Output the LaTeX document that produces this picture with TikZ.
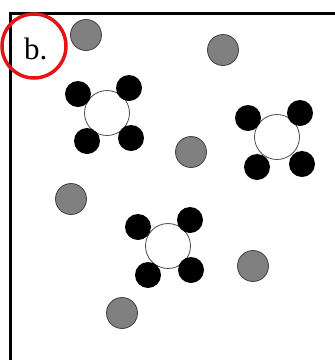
\documentclass[tikz,border=0pt]{standalone}
\usepackage{fontspec}
\setmainfont{Liberation Serif}
\definecolor{markred}{RGB}{228, 20, 20}
\definecolor{solgray}{RGB}{128, 128, 128}

\begin{document}
\begin{tikzpicture}[x=1pt, y=-1pt,
  solvent/.style={circle, draw=black!75, fill=solgray, line width=0.8pt, minimum size=31pt, inner sep=0pt},
  core/.style={circle, draw=black!70, fill=white, line width=0.8pt, minimum size=45pt, inner sep=0pt},
  ligand/.style={circle, fill=black, minimum size=26pt, inner sep=0pt},
  frame/.style={line width=3pt}
]
  \useasboundingbox (0,0) rectangle (335,360);

  % box edges
  \coordinate (topright) at (335,13);
  \coordinate (corner) at (10.5,13);
  \coordinate (bottomleft) at (10.5,360);
  \draw[frame] (topright) -- (corner) -- (bottomleft);

  % free particles
  \node[solvent] (s1) at (86,35) {};
  \node[solvent] (s2) at (223,50) {};
  \node[solvent] (s3) at (191,152) {};
  \node[solvent] (s4) at (71,199) {};
  \node[solvent] (s5) at (253,266) {};
  \node[solvent] (s6) at (122,313) {};

  % complex 1
  \node[core] (c1) at (107,113) {};
  \node[ligand] (c1a) at (78,94) {};
  \node[ligand] (c1b) at (129,88) {};
  \node[ligand] (c1c) at (87,141) {};
  \node[ligand] (c1d) at (131,138) {};

  % complex 2
  \node[core] (c2) at (277,137) {};
  \node[ligand] (c2a) at (248,118) {};
  \node[ligand] (c2b) at (300,113) {};
  \node[ligand] (c2c) at (257,167) {};
  \node[ligand] (c2d) at (302,164) {};

  % complex 3
  \node[core] (c3) at (168,246) {};
  \node[ligand] (c3a) at (138,227) {};
  \node[ligand] (c3b) at (190,220) {};
  \node[ligand] (c3c) at (148,275) {};
  \node[ligand] (c3d) at (191,270) {};

  % panel tag
  \node[circle, draw=markred, line width=3.5pt, minimum size=64pt, inner sep=0pt] (tag) at (34,46) {};
  \node[anchor=base west, inner sep=0pt, font=\fontsize{31}{31}\selectfont] (tagtext) at (24,59) {b.};
\end{tikzpicture}
\end{document}
